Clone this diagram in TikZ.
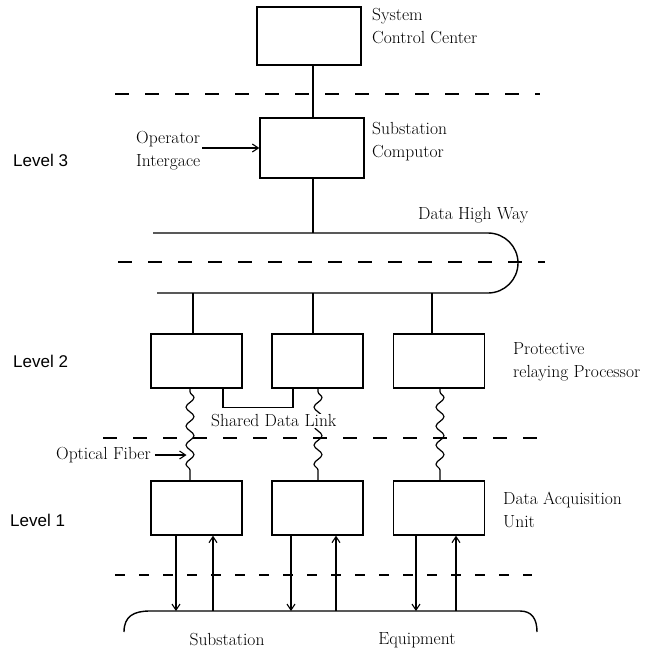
\documentclass[tikz,border=0pt]{standalone}
\usepackage{fontspec}
\newfontfamily\lvlfont{Liberation Sans}
\usetikzlibrary{arrows.meta,decorations.pathmorphing}
\begin{document}
\begin{tikzpicture}[x=1pt,y=-1pt,
  unit/.style={draw,line width=1.4pt,minimum width=91pt,minimum height=54pt,inner sep=0pt},
  wire/.style={line width=1.1pt},
  tier/.style={dash pattern=on 14pt off 16pt,line width=1.4pt},
  fiber/.style={line width=1.2pt,decorate,decoration={snake,amplitude=4pt,segment length=19pt,pre length=3pt,post length=3pt}},
  lbl/.style={inner sep=0pt,font=\fontsize{17.5}{23}\selectfont,align=left},
  lvl/.style={inner sep=0pt,font=\lvlfont\fontsize{17}{20}\selectfont,anchor=west},
  sig/.style={wire,-{Straight Barb[length=6pt,width=8pt]}}]
\useasboundingbox (0,0) rectangle (654,656);

% tier boundaries
\draw[tier] (115,94) -- (540,94);
\draw[tier] (118,262) -- (545,262);
\draw[tier] (103,438) -- (540,438);
\draw[tier,dash pattern=on 10pt off 14pt] (115,575) -- (532,575);

% level 3
\node[unit,minimum width=104pt,minimum height=58pt] (sys) at (309,36) {};
\node[unit,minimum width=104pt,minimum height=60pt] (sub) at (312,148) {};
\node[lbl,anchor=west] (syslbl) at (372,26) {System\\Control Center};
\node[lbl,anchor=west] (sublbl) at (372,142) {Substation\\Computor};
\node[lbl,anchor=west] (oplbl) at (136,151) {Operator\\Intergace};
\draw[sig] (oplbl.east |- sub.west) ++(2,0) coordinate (opstart) -- (sub.west);
\draw[wire] ([xshift=4pt]sys.south) -- ([xshift=1pt]sub.north);

% data highway
\coordinate (hwtop) at (0,233);
\coordinate (hwbot) at (0,293);
\draw[line width=1.4pt] (153,233) -- (488,233) arc[start angle=90,end angle=-90,radius=30pt] -- (157,293);
\node[lbl,anchor=west] (hwlbl) at (418,215) {Data High Way};
\draw[wire] ([xshift=1pt]sub.south) -- ([xshift=1pt]sub.south |- hwtop);

% level 2
\node[unit] (A2) at (196.5,361) {};
\node[unit] (B2) at (317.5,361) {};
\node[unit] (C2) at (439,361) {};
\draw[wire] ([xshift=-3.5pt]A2.north |- hwbot) -- ([xshift=-3.5pt]A2.north);
\draw[wire] ([xshift=-4.5pt]B2.north |- hwbot) -- ([xshift=-4.5pt]B2.north);
\draw[wire] ([xshift=-7pt]C2.north |- hwbot) -- ([xshift=-7pt]C2.north);
\draw[wire] ([xshift=26.5pt]A2.south) -- ++(0,19) -| ([xshift=-24.5pt]B2.south);
\node[lbl,anchor=west] (prlbl) at (513,362) {Protective\\relaying Processor};

% level 1
\node[unit] (A1) at (196.5,508) {};
\node[unit] (B1) at (317.5,508) {};
\node[unit] (C1) at (439,508) {};
\node[lbl,anchor=west] (dalbl) at (503,510) {Data Acquisition\\Unit};

% optical fibers
\draw[fiber] ([xshift=-6.5pt]A2.south) -- ([xshift=-6.5pt]A1.north);
\draw[fiber] ([xshift=0.5pt]B2.south) -- ([xshift=0.5pt]B1.north);
\draw[fiber] ([xshift=1pt]C2.south) -- ([xshift=1pt]C1.north);
\node[lbl,anchor=west,fill=white,inner sep=1pt] (shlbl) at (210,421) {Shared Data Link};
\node[lbl,anchor=west] (oflbl) at (56,455) {Optical Fiber};
\draw[sig] ([xshift=4pt]oflbl.east) -- ([xshift=-10pt]A2.south |- oflbl.east);

% substation equipment bus
\coordinate (bus) at (0,611);
\draw[line width=1.4pt] (124,632) .. controls (124,616) and (134,611) .. (150,611) -- (520,611) .. controls (532,611) and (537,619) .. (537,632);
\draw[sig] ([xshift=-20.5pt]A1.south) -- ([xshift=-20.5pt]A1.south |- bus);
\draw[sig] ([xshift=16.5pt]A1.south |- bus) -- ([xshift=16.5pt]A1.south);
\draw[sig] ([xshift=-26.5pt]B1.south) -- ([xshift=-26.5pt]B1.south |- bus);
\draw[sig] ([xshift=18.5pt]B1.south |- bus) -- ([xshift=18.5pt]B1.south);
\draw[sig] ([xshift=-23pt]C1.south) -- ([xshift=-23pt]C1.south |- bus);
\draw[sig] ([xshift=17pt]C1.south |- bus) -- ([xshift=17pt]C1.south);
\node[lbl] (eq1) at (227,640) {Substation};
\node[lbl] (eq2) at (417,640) {Equipment};

% level labels
\node[lvl] (lv3) at (13,160) {Level 3};
\node[lvl] (lv2) at (13,361) {Level 2};
\node[lvl] (lv1) at (10,520) {Level 1};
\end{tikzpicture}
\end{document}
